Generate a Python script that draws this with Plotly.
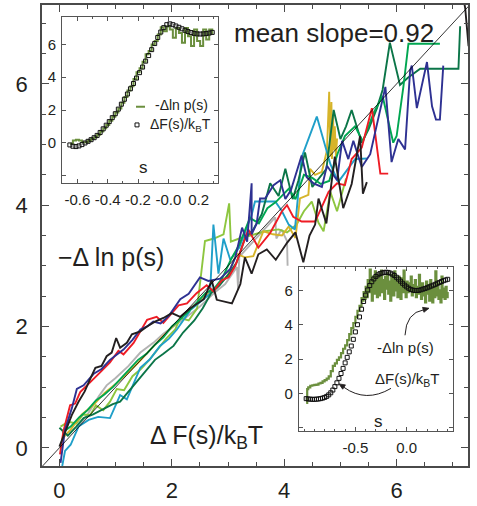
import math
import plotly.graph_objects as go

# ---------------- page geometry ----------------
W_PX, H_PX = 477, 506
L, R, T, B = 42, 9, 3, 34
PW = W_PX - L - R
PH = H_PX - T - B


def fx(px):
    return (px - L) / PW


def fy(py):
    return (H_PX - B - py) / PH


FONT = "Liberation Sans, Arial, Helvetica, sans-serif"
INK = "#231f20"

# ---------------- main panel: -dln p(s) vs dF(s)/kT, one curve per run ----------------
black_x = [0.00, 0.10, 0.22, 0.34, 0.45, 0.55, 0.64, 0.75, 0.84, 0.93, 1.01, 1.08, 1.20, 1.29, 1.44,
           1.56, 1.70, 1.85, 2.00, 2.15, 2.33, 2.57, 2.71, 2.80, 3.07, 3.22, 3.30, 3.42, 3.54, 3.69,
           3.85, 4.05, 4.20, 4.34, 4.45, 4.55, 4.61, 4.75, 4.90, 5.05, 5.20, 5.35, 5.40, 5.47]
black_y = [0.02, 0.27, 0.54, 0.76, 0.93, 1.14, 1.32, 1.35, 1.51, 1.57, 1.81, 1.65, 1.73, 1.87, 1.92,
           2.00, 2.08, 2.14, 2.22, 2.16, 2.30, 2.45, 2.76, 2.44, 2.38, 2.70, 3.14, 2.87, 3.19, 3.27,
           3.10, 3.38, 3.55, 3.06, 3.50, 3.68, 4.11, 3.70, 4.80, 3.95, 4.35, 5.14, 4.19, 4.38]

black2_x = [7.18, 7.22, 7.28]
black2_y = [7.45, 7.25, 6.62]

navy_x = [0.02, 0.10, 0.22, 0.31, 0.43, 0.61, 0.75, 0.90, 1.00, 1.14, 1.30, 1.44, 1.56, 1.67, 1.80,
          1.95, 2.15, 2.30, 2.50, 2.65, 2.86, 3.04, 3.13, 3.25, 3.34, 3.42, 3.42, 3.51, 3.57, 3.66,
          3.81, 3.93, 4.02, 4.12, 4.31, 4.40, 4.52, 4.67, 4.76, 4.94, 5.03, 5.14, 5.23, 5.38, 5.53,
          5.80, 5.91, 6.03, 6.15, 6.24, 6.27, 6.36, 6.54, 6.63, 6.70, 6.77, 6.83]
navy_y = [-0.25, 0.30, 0.65, 0.97, 1.03, 1.22, 1.30, 1.45, 1.52, 1.62, 1.78, 1.95, 2.00, 2.08, 2.05,
          2.18, 2.45, 2.54, 2.81, 2.75, 2.79, 2.95, 3.14, 3.63, 3.40, 4.36, 3.52, 3.70, 4.11, 4.11,
          4.33, 4.41, 4.10, 4.25, 4.82, 4.46, 4.36, 4.30, 4.65, 4.41, 5.06, 4.76, 5.06, 4.63, 4.84,
          5.95, 4.71, 5.09, 4.92, 6.22, 6.30, 5.60, 6.36, 5.63, 5.41, 5.41, 6.30]

red_x = [0.01, 0.07, 0.19, 0.28, 0.37, 0.55, 0.72, 0.90, 1.05, 1.14, 1.32, 1.56, 1.73, 1.85, 2.12,
         2.27, 2.44, 2.62, 2.74, 2.89, 3.01, 3.13, 3.36, 3.54, 3.75, 3.96, 4.05, 4.16, 4.31, 4.55,
         4.70, 4.79, 4.94, 5.08, 5.20, 5.38, 5.56, 5.71, 5.85]
red_y = [-0.11, 0.27, 0.70, 0.73, 0.92, 1.08, 1.24, 1.41, 1.60, 1.54, 1.73, 2.11, 2.16, 2.06, 2.35,
         2.38, 2.55, 2.68, 2.58, 2.76, 2.81, 3.00, 3.60, 3.30, 3.54, 3.90, 4.00, 3.81, 3.73, 3.73,
         4.03, 4.22, 4.36, 4.33, 4.76, 4.95, 5.60, 4.52, 4.52]

teal_x = [0.05, 0.10, 0.20, 0.34, 0.52, 0.69, 0.90, 1.08, 1.20, 1.35, 1.44, 1.61, 1.79, 1.95, 2.09,
          2.33, 2.50, 2.68, 2.74, 2.83, 2.92, 3.04, 3.20, 3.42, 3.48, 3.84, 3.96, 4.08, 4.19, 4.31,
          4.58, 4.82, 4.96, 5.10, 5.26, 5.47]
teal_y = [-0.30, -0.05, 0.05, 0.35, 0.46, 0.51, 0.49, 0.87, 0.80, 1.11, 1.32, 1.46, 1.68, 1.80, 1.95,
          2.27, 2.40, 2.54, 3.68, 2.87, 3.45, 3.10, 3.30, 3.84, 4.06, 4.06, 3.90, 3.68, 3.60, 4.79,
          5.46, 4.68, 4.38, 4.55, 4.76, 4.77]

gold_x = [0.05, 0.20, 0.40, 0.60, 0.80, 1.00, 1.20, 1.40, 1.60, 1.80, 2.00, 2.20, 2.40, 2.60, 2.80,
          3.00, 3.15, 3.30, 3.45, 3.63, 3.80, 3.96, 4.08, 4.20, 4.28, 4.43, 4.46, 4.55, 4.67, 4.76,
          4.80, 4.82, 4.84, 4.85, 4.87, 4.88, 4.90, 4.92, 4.94]
gold_y = [0.15, 0.30, 0.55, 0.70, 0.90, 1.05, 1.22, 1.40, 1.60, 1.80, 1.98, 2.18, 2.35, 2.50, 2.65,
          2.85, 3.20, 3.14, 3.16, 3.57, 3.52, 3.50, 3.65, 3.46, 4.11, 4.17, 4.60, 4.50, 4.55, 4.90,
          5.87, 4.80, 5.70, 4.76, 5.50, 4.90, 5.30, 4.80, 5.10]

lime_x = [0.02, 0.16, 0.30, 0.42, 0.55, 0.65, 0.78, 0.90, 1.02, 1.15, 1.30, 1.45, 1.60, 1.75, 1.90,
          2.06, 2.15, 2.30, 2.45, 2.59, 2.75, 2.92, 3.02, 3.05, 3.20, 3.40, 3.66, 3.90, 4.05, 4.22,
          4.35, 4.49, 4.61, 4.70, 4.82, 4.94, 5.10]
lime_y = [0.35, 0.43, 0.40, 0.55, 0.54, 0.70, 0.62, 0.76, 0.97, 0.95, 1.18, 1.30, 1.45, 1.62, 1.80,
          1.95, 2.14, 2.10, 2.30, 3.41, 3.45, 3.52, 4.03, 3.40, 3.45, 3.50, 3.57, 3.60, 3.55, 3.68,
          3.90, 4.06, 3.71, 3.57, 4.22, 3.90, 4.44]

gray_x = [0.30, 0.50, 0.70, 0.84, 1.00, 1.23, 1.44, 1.67, 1.85, 2.03, 2.25, 2.50, 2.75, 2.95, 3.16,
          3.18, 3.20, 3.35, 3.50, 3.65, 3.84, 3.86, 3.95, 4.05, 4.06]
gray_y = [0.30, 0.55, 0.85, 1.03, 1.15, 1.35, 1.57, 1.73, 1.88, 2.00, 2.15, 2.33, 2.55, 2.70, 2.98,
          2.60, 3.15, 3.30, 3.45, 3.60, 3.80, 3.45, 3.60, 3.41, 3.00]

green_x = [0.05, 0.20, 0.35, 0.50, 0.65, 0.80, 0.95, 1.10, 1.25, 1.40, 1.55, 1.70, 1.85, 2.00, 2.15,
           2.30, 2.45, 2.60, 2.75, 2.90, 3.05, 3.20, 3.39, 3.55, 3.70, 3.85, 4.08, 4.20, 4.35, 4.50,
           4.65, 4.80, 4.95, 5.08, 5.26, 5.40, 5.59, 5.75, 5.94, 6.00, 6.12, 6.21, 6.50, 6.77]
green_y = [0.25, 0.35, 0.50, 0.62, 0.78, 0.88, 1.00, 1.15, 1.30, 1.45, 1.55, 1.70, 1.82, 2.00, 2.12,
           2.25, 2.40, 2.55, 2.62, 2.80, 3.10, 3.35, 3.79, 3.70, 3.95, 4.05, 4.27, 4.10, 4.50, 4.45,
           4.35, 4.40, 4.85, 5.14, 5.30, 5.05, 5.52, 5.80, 5.03, 5.14, 5.95, 6.66, 6.66, 6.66]

dkgreen_x = [0.00, 0.15, 0.30, 0.43, 0.60, 0.80, 0.95, 1.08, 1.25, 1.40, 1.55, 1.70, 1.85, 2.03, 2.20,
             2.40, 2.55, 2.70, 2.85, 3.00, 3.15, 3.30, 3.45, 3.60, 3.75, 3.90, 4.02, 4.15, 4.25, 4.37,
             4.50, 4.62, 4.75, 4.88, 5.00, 5.10, 5.20, 5.38, 5.50, 5.65, 5.75, 5.88, 6.06, 6.20, 6.42,
             7.10, 7.13]
dkgreen_y = [0.33, 0.20, 0.35, 0.49, 0.55, 0.65, 0.72, 0.76, 0.95, 1.10, 1.28, 1.45, 1.55, 1.68, 1.90,
             2.10, 2.30, 2.55, 2.68, 2.85, 3.05, 3.45, 3.60, 3.85, 4.36, 4.15, 4.60, 4.10, 4.40, 4.87,
             4.30, 4.45, 4.60, 5.57, 5.09, 5.30, 5.57, 5.03, 5.25, 5.60, 5.90, 6.68, 5.98, 6.10, 6.25,
             6.25, 6.95]

runs = [
    (gray_x, gray_y, "#b3b3b3"),
    (lime_x, lime_y, "#8dc63f"),
    (gold_x, gold_y, "#d6b42a"),
    (teal_x, teal_y, "#1f9fc9"),
    (dkgreen_x, dkgreen_y, "#0b7548"),
    (green_x, green_y, "#00a651"),
    (red_x, red_y, "#ee1c25"),
    (navy_x, navy_y, "#2e3192"),
    (black_x, black_y, "#231f20"),
    (black2_x, black2_y, "#231f20"),
]

X_RANGE = [-0.31, 7.27]
Y_RANGE = [-0.30, 7.30]

# ---------------- inset 1: free energy profile and -dln p(s), run A ----------------
s1 = [-0.65, -0.63, -0.61, -0.59, -0.57, -0.55, -0.53, -0.51, -0.49, -0.47, -0.45, -0.43, -0.41,
      -0.39, -0.37, -0.35, -0.33, -0.31, -0.29, -0.27, -0.25, -0.23, -0.21, -0.19, -0.17, -0.15,
      -0.13, -0.11, -0.09, -0.07, -0.05, -0.03, -0.01, 0.01, 0.03, 0.05, 0.07, 0.09, 0.11, 0.13,
      0.15, 0.17, 0.19, 0.21, 0.23, 0.25, 0.27, 0.29]
dF1 = [-0.12, -0.20, -0.22, -0.18, -0.10, 0.00, 0.10, 0.20, 0.32, 0.46, 0.64, 0.86, 1.08,
       1.30, 1.54, 1.78, 2.06, 2.36, 2.66, 2.98, 3.30, 3.62, 3.95, 4.28, 4.62, 4.98,
       5.32, 5.68, 6.05, 6.42, 6.75, 7.02, 7.20, 7.25, 7.20, 7.12, 7.04, 6.95, 6.86, 6.78,
       6.72, 6.67, 6.64, 6.63, 6.64, 6.66, 6.69, 6.73]
lnp1 = [-0.05, 0.15, 0.20, 0.15, 0.05, 0.05, 0.15, 0.25, 0.35, 0.50, 0.70, 0.90, 1.10,
        1.35, 1.60, 1.85, 2.10, 2.45, 2.80, 3.20, 3.45, 3.90, 4.30, 4.55, 4.95, 5.40,
        5.60, 6.00, 6.20, 6.60, 7.05, 6.80, 7.10, 6.90, 6.40, 7.00, 6.70, 6.10, 7.00, 6.50,
        5.90, 6.90, 6.20, 5.90, 6.90, 6.30, 6.90, 6.60]
IN1_X = [-0.70, 0.33]
IN1_Y = [-2.45, 7.68]

# ---------------- inset 2: free energy profile and -dln p(s), run B ----------------
s2 = [-0.98, -0.96, -0.94, -0.92, -0.90, -0.88, -0.86, -0.84, -0.82, -0.80, -0.78, -0.76, -0.74,
      -0.72, -0.70, -0.68, -0.66, -0.64, -0.62, -0.60, -0.58, -0.56, -0.54, -0.52, -0.50, -0.48,
      -0.46, -0.44, -0.42, -0.40, -0.38, -0.36, -0.34, -0.32, -0.30, -0.28, -0.26, -0.24, -0.22,
      -0.20, -0.18, -0.16, -0.14, -0.12, -0.10, -0.08, -0.06, -0.04, -0.02, 0.00, 0.02, 0.04,
      0.06, 0.08, 0.10, 0.12, 0.14, 0.16, 0.18, 0.20, 0.22, 0.24, 0.26, 0.28, 0.30, 0.32, 0.34,
      0.36, 0.38, 0.40]
dF2 = [-0.30, -0.32, -0.33, -0.34, -0.34, -0.33, -0.32, -0.30, -0.27, -0.23, -0.17, -0.08, 0.04,
       0.20, 0.40, 0.62, 0.88, 1.16, 1.46, 1.78, 2.10, 2.42, 2.76, 3.15, 3.58, 4.00,
       4.45, 4.90, 5.35, 5.72, 6.02, 6.28, 6.50, 6.66, 6.80, 6.90, 6.97, 7.01, 7.04,
       7.05, 7.04, 7.00, 6.94, 6.86, 6.76, 6.65, 6.53, 6.41, 6.30, 6.20, 6.12, 6.05,
       6.01, 5.99, 5.99, 6.00, 6.03, 6.07, 6.11, 6.15, 6.20, 6.25, 6.30, 6.35, 6.41, 6.46, 6.51,
       6.56, 6.60, 6.64]

s2p = [-0.98, -0.97, -0.96, -0.94, -0.92, -0.90, -0.88, -0.86, -0.84, -0.82, -0.80, -0.78, -0.76,
       -0.74, -0.72, -0.70, -0.68, -0.66, -0.64, -0.62, -0.60, -0.58, -0.56, -0.54, -0.52, -0.50,
       -0.48, -0.46, -0.44, -0.43, -0.42, -0.41, -0.40, -0.39, -0.38, -0.37, -0.36, -0.35, -0.34,
       -0.33, -0.32, -0.31, -0.30, -0.29, -0.28, -0.27, -0.26, -0.25, -0.24, -0.23, -0.22, -0.21,
       -0.20, -0.19, -0.18, -0.17, -0.16, -0.15, -0.14, -0.13, -0.12, -0.11, -0.10, -0.09, -0.08,
       -0.07, -0.06, -0.05, -0.04, -0.03, -0.02, -0.01, 0.00, 0.01, 0.02, 0.03, 0.04, 0.05, 0.06,
       0.07, 0.08, 0.09, 0.10, 0.11, 0.12, 0.13, 0.14, 0.15, 0.16, 0.17, 0.18, 0.19, 0.20, 0.21,
       0.22, 0.23, 0.24, 0.25, 0.26, 0.27, 0.28, 0.29, 0.30, 0.31, 0.32, 0.33, 0.34, 0.35, 0.36,
       0.37, 0.38, 0.39, 0.40]
lnp2 = [-0.55, 0.25, 0.35, 0.45, 0.48, 0.50, 0.52, 0.58, 0.62, 0.70, 0.78, 0.86, 1.00,
        1.30, 1.60, 1.75, 1.95, 2.10, 2.35, 2.60, 2.80, 3.10, 3.45, 3.80, 4.10, 4.45,
        4.80, 5.10, 5.55, 5.40, 5.90, 5.50, 6.20, 5.60, 6.60, 5.90, 7.20, 6.00, 5.40,
        6.80, 5.80, 7.10, 6.20, 5.60, 6.90, 5.70, 6.40, 7.15, 5.90, 6.60, 5.50, 6.80,
        6.10, 7.00, 5.80, 6.50, 5.40, 6.90, 6.20, 5.70, 7.10, 6.00, 6.60, 5.60, 6.80,
        6.10, 5.50, 6.70, 5.90, 7.15, 6.20, 5.60, 6.50, 5.90, 6.40, 6.00, 6.80, 5.70, 6.30,
        5.90, 6.60, 5.60, 6.20, 5.80, 6.90, 6.00, 5.50, 6.40, 5.70, 6.10, 5.30, 6.50, 5.80, 6.30,
        5.40, 6.60, 5.90, 5.30, 6.20, 5.60, 7.10, 5.70, 6.40, 5.50, 6.00, 5.30, 6.80, 5.60, 6.10,
        5.50, 6.20, 5.60, 5.90]
IN2_X = [-1.05, 0.455]
IN2_Y = [-2.20, 7.37]

PROFILE_GREEN = "#6b8f3e"

fig = go.Figure()

for xs, ys, col in runs:
    fig.add_trace(go.Scatter(x=xs, y=ys, mode="lines", line=dict(color=col, width=1.9),
                             xaxis="x", yaxis="y", hoverinfo="skip", showlegend=False))

# reference line of unit slope
diag = [min(X_RANGE[0], Y_RANGE[0]), max(X_RANGE[1], Y_RANGE[1])]
fig.add_trace(go.Scatter(x=diag, y=diag, mode="lines", line=dict(color="#000000", width=0.8),
                         xaxis="x", yaxis="y", hoverinfo="skip", showlegend=False))


def inset_background(xr, yr, xa, ya):
    return go.Scatter(x=[xr[0], xr[1], xr[1], xr[0], xr[0]],
                      y=[yr[0], yr[0], yr[1], yr[1], yr[0]],
                      mode="lines", fill="toself", fillcolor="white",
                      line=dict(width=0, color="white"), xaxis=xa, yaxis=ya,
                      hoverinfo="skip", showlegend=False)


fig.add_trace(inset_background(IN1_X, IN1_Y, "x2", "y2"))
fig.add_trace(go.Scatter(x=s1, y=lnp1, mode="lines", line=dict(color=PROFILE_GREEN, width=2, shape="hv"),
                         xaxis="x2", yaxis="y2", hoverinfo="skip", showlegend=False))
fig.add_trace(go.Scatter(x=s1, y=dF1, mode="markers",
                         marker=dict(symbol="square-open", size=4, color="#111111", line=dict(width=1)),
                         xaxis="x2", yaxis="y2", hoverinfo="skip", showlegend=False))

fig.add_trace(inset_background(IN2_X, IN2_Y, "x3", "y3"))
fig.add_trace(go.Scatter(x=s2p, y=lnp2, mode="lines", line=dict(color=PROFILE_GREEN, width=2.2, shape="hv"),
                         xaxis="x3", yaxis="y3", hoverinfo="skip", showlegend=False))
fig.add_trace(go.Scatter(x=s2, y=dF2, mode="markers",
                         marker=dict(symbol="square-open", size=4, color="#111111", line=dict(width=1)),
                         xaxis="x3", yaxis="y3", hoverinfo="skip", showlegend=False))

main_axis = dict(showline=True, linecolor="#4a4a4a", linewidth=1.5, mirror="ticks",
                 ticks="inside", ticklen=7, tickwidth=1, tickcolor="#4a4a4a",
                 showgrid=False, zeroline=False,
                 tickfont=dict(family=FONT, size=22, color=INK),
                 minor=dict(ticks="inside", ticklen=4, tickwidth=1, tickcolor="#4a4a4a", dtick=0.5, tick0=0))

inset_axis = dict(showline=True, linecolor="#555555", linewidth=1.2, mirror="ticks",
                  ticks="inside", ticklen=4, tickwidth=1, tickcolor="#555555",
                  showgrid=False, zeroline=False,
                  tickfont=dict(family=FONT, size=15, color=INK))

# unlabelled tick at -2 on the inset energy axes
inset_y_minor = dict(tickmode="array", tickvals=[-2], ticks="inside", ticklen=4, tickcolor="#555555")

fig.update_layout(
    width=W_PX, height=H_PX,
    margin=dict(l=L, r=R, t=T, b=B, pad=0),
    paper_bgcolor="white", plot_bgcolor="white",
    showlegend=False,
    xaxis=dict(main_axis, range=X_RANGE, tickvals=[0, 2, 4, 6], ticklabelstandoff=4, domain=[0, 1]),
    yaxis=dict(main_axis, range=Y_RANGE, tickvals=[0, 2, 4, 6], ticklabelstandoff=8, domain=[0, 1]),
    xaxis2=dict(inset_axis, range=IN1_X, anchor="y2",
                domain=[fx(62.3), fx(218.3)],
                tickvals=[-0.6, -0.4, -0.2, 0.0, 0.2], ticktext=["-0.6", "-0.4", "-0.2", "-0.0", "0.2"],
                ticklabelstandoff=3,
                minor=dict(ticks="inside", ticklen=2.5, tickcolor="#555555", dtick=0.1, tick0=0)),
    yaxis2=dict(inset_axis, range=IN1_Y, anchor="x2",
                domain=[fy(184.3), fy(15)],
                tickvals=[0, 2, 4, 6], ticklabelstandoff=2, minor=inset_y_minor),
    xaxis3=dict(inset_axis, range=IN2_X, anchor="y3",
                domain=[fx(299), fx(453.3)],
                tickvals=[-0.5, 0.0], ticktext=["-0.5", "0.0"], ticklabelstandoff=3,
                minor=dict(ticks="inside", ticklen=2.5, tickcolor="#555555", dtick=0.1, tick0=0)),
    yaxis3=dict(inset_axis, range=IN2_Y, anchor="x3",
                domain=[fy(436.7), fy(269.3)],
                tickvals=[0, 2, 4, 6], ticklabelstandoff=2, minor=inset_y_minor),
)


def label(text, px, py, size, anchor="center"):
    fig.add_annotation(text=text, x=fx(px), y=fy(py), xref="paper", yref="paper",
                       xanchor=anchor, yanchor="middle", showarrow=False,
                       font=dict(family=FONT, size=size, color=INK))


label("mean slope=0.92", 334, 31, 26)
label("\u2212\u0394 ln p(s)", 111, 259, 25)
label("\u0394 F(s)/k<sub>B</sub>T", 206, 442, 25)

# inset 1 key
label("-\u0394ln p(s)", 153, 105, 14, "left")
label("\u0394F(s)/k<sub>B</sub>T", 148, 125, 14, "left")
label("s", 143, 168, 17)
fig.add_shape(type="line", xref="paper", yref="paper",
              x0=fx(136), x1=fx(145), y0=fy(106.5), y1=fy(106.5),
              line=dict(color=PROFILE_GREEN, width=2))
fig.add_shape(type="rect", xref="paper", yref="paper",
              x0=fx(135), x1=fx(139), y0=fy(127), y1=fy(123),
              line=dict(color="#111111", width=1), fillcolor="white")

# inset 2 labels with curved pointers
label("-\u0394ln p(s)", 405, 351, 15)
label("\u0394F(s)/k<sub>B</sub>T", 407, 384, 15)
label("s", 378, 427, 17)


def curve(p0, c, p1):
    return f"M {fx(p0[0])},{fy(p0[1])} Q {fx(c[0])},{fy(c[1])} {fx(p1[0])},{fy(p1[1])}"


def arrowhead(tip, frm, length=6.0, half=2.6):
    dx, dy = tip[0] - frm[0], tip[1] - frm[1]
    n = math.hypot(dx, dy)
    ux, uy = dx / n, dy / n
    bx, by = tip[0] - ux * length, tip[1] - uy * length
    p1 = (bx - uy * half, by + ux * half)
    p2 = (bx + uy * half, by - ux * half)
    return (f"M {fx(tip[0])},{fy(tip[1])} L {fx(p1[0])},{fy(p1[1])} "
            f"L {fx(p2[0])},{fy(p2[1])} Z")


fig.add_shape(type="path", xref="paper", yref="paper",
              path=curve((405, 339), (406, 316), (424, 313)),
              line=dict(color=INK, width=1))
fig.add_shape(type="path", xref="paper", yref="paper",
              path=arrowhead((429, 311.5), (420, 314)),
              line=dict(color=INK, width=0.8), fillcolor=INK)
fig.add_shape(type="path", xref="paper", yref="paper",
              path=curve((391, 393), (366, 408), (344, 392)),
              line=dict(color=INK, width=1))
fig.add_shape(type="path", xref="paper", yref="paper",
              path=arrowhead((339, 388.5), (347, 393.5)),
              line=dict(color=INK, width=0.8), fillcolor=INK)

fig.write_html("out.html")
